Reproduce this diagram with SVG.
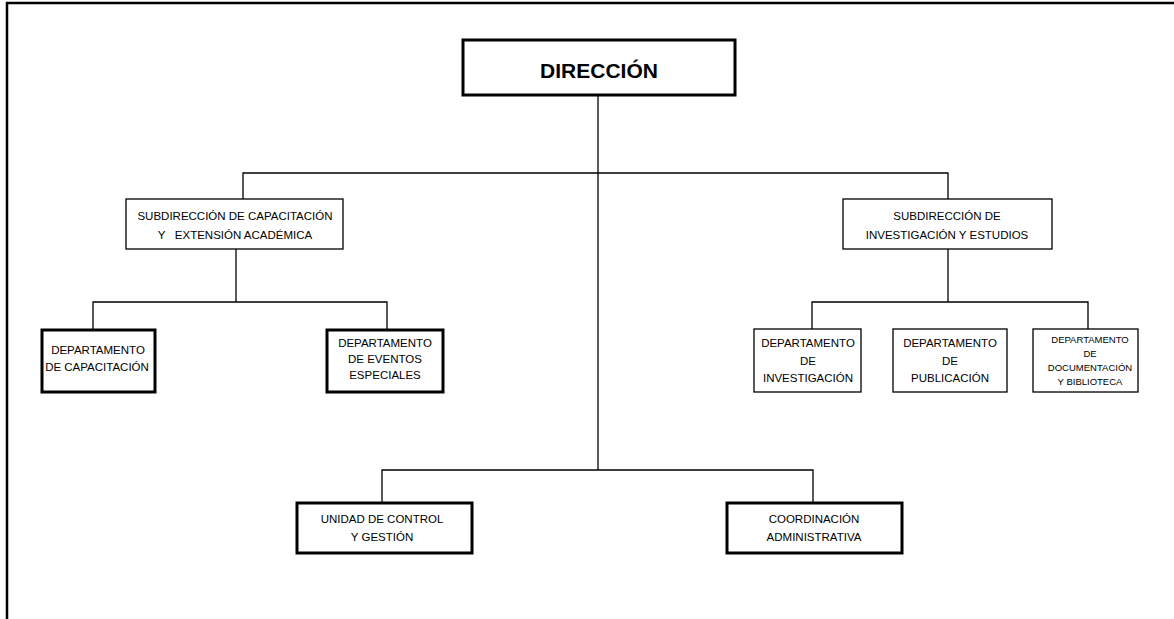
<svg xmlns="http://www.w3.org/2000/svg" width="1174" height="619" viewBox="0 0 1174 619">
<style>
text{font-family:"Liberation Sans",Arial,sans-serif;fill:#000;text-anchor:middle}
.t{font-size:11.5px}
.s{font-size:9.5px}
.b{font-size:21px;font-weight:bold}
.thin{fill:#fff;stroke:#000;stroke-width:1.3}
.thick{fill:#fff;stroke:#000;stroke-width:3}
.c{fill:none;stroke:#000;stroke-width:1.3}
</style>
<rect width="1174" height="619" fill="#fff"/>
<g id="frame">
<path d="M7 619V3H1174" fill="none" stroke="#000" stroke-width="2.5"/>
</g>
<g id="connectors">
<path class="c" d="M598 96V470"/>
<path class="c" d="M243 199V173H948V199"/>
<path class="c" d="M236 249V302"/>
<path class="c" d="M93 330V302H387V330"/>
<path class="c" d="M948 249V302"/>
<path class="c" d="M812 329V302H1088V329"/>
<path class="c" d="M382 503V470H813V503"/>
</g>
<g id="direccion">
<rect class="thick" x="463" y="40" width="272" height="55"/>
<text class="b" x="599" y="78">DIRECCIÓN</text>
</g>
<g id="subdir-capacitacion">
<rect class="thin" x="126" y="199" width="217" height="50"/>
<text class="t" x="235" y="220">SUBDIRECCIÓN DE CAPACITACIÓN</text>
<text class="t" x="235" y="239" xml:space="preserve">Y   EXTENSIÓN ACADÉMICA</text>
</g>
<g id="subdir-investigacion">
<rect class="thin" x="843" y="199" width="209" height="50"/>
<text class="t" x="947" y="220">SUBDIRECCIÓN DE</text>
<text class="t" x="947" y="239">INVESTIGACIÓN Y ESTUDIOS</text>
</g>
<g id="dep-capacitacion">
<rect class="thick" x="42" y="330" width="113" height="62"/>
<text class="t" x="98" y="354">DEPARTAMENTO</text>
<text class="t" x="97" y="371">DE CAPACITACIÓN</text>
</g>
<g id="dep-eventos">
<rect class="thick" x="327" y="330" width="116" height="62"/>
<text class="t" x="385" y="347">DEPARTAMENTO</text>
<text class="t" x="385" y="363">DE EVENTOS</text>
<text class="t" x="385" y="379">ESPECIALES</text>
</g>
<g id="dep-investigacion">
<rect class="thin" x="754" y="329" width="107" height="63"/>
<text class="t" x="808" y="347">DEPARTAMENTO</text>
<text class="t" x="808" y="365">DE</text>
<text class="t" x="808" y="382">INVESTIGACIÓN</text>
</g>
<g id="dep-publicacion">
<rect class="thin" x="893" y="329" width="114" height="63"/>
<text class="t" x="950" y="347">DEPARTAMENTO</text>
<text class="t" x="950" y="365">DE</text>
<text class="t" x="950" y="382">PUBLICACIÓN</text>
</g>
<g id="dep-documentacion">
<rect class="thin" x="1033" y="329" width="105" height="63"/>
<text class="s" x="1090" y="343">DEPARTAMENTO</text>
<text class="s" x="1090" y="357">DE</text>
<text class="s" x="1090" y="371">DOCUMENTACIÓN</text>
<text class="s" x="1090" y="385">Y BIBLIOTECA</text>
</g>
<g id="unidad-control">
<rect class="thick" x="297" y="503" width="175" height="50"/>
<text class="t" x="382" y="523">UNIDAD DE CONTROL</text>
<text class="t" x="382" y="541">Y GESTIÓN</text>
</g>
<g id="coordinacion">
<rect class="thick" x="727" y="503" width="175" height="50"/>
<text class="t" x="814" y="523">COORDINACIÓN</text>
<text class="t" x="814" y="541">ADMINISTRATIVA</text>
</g>
</svg>
